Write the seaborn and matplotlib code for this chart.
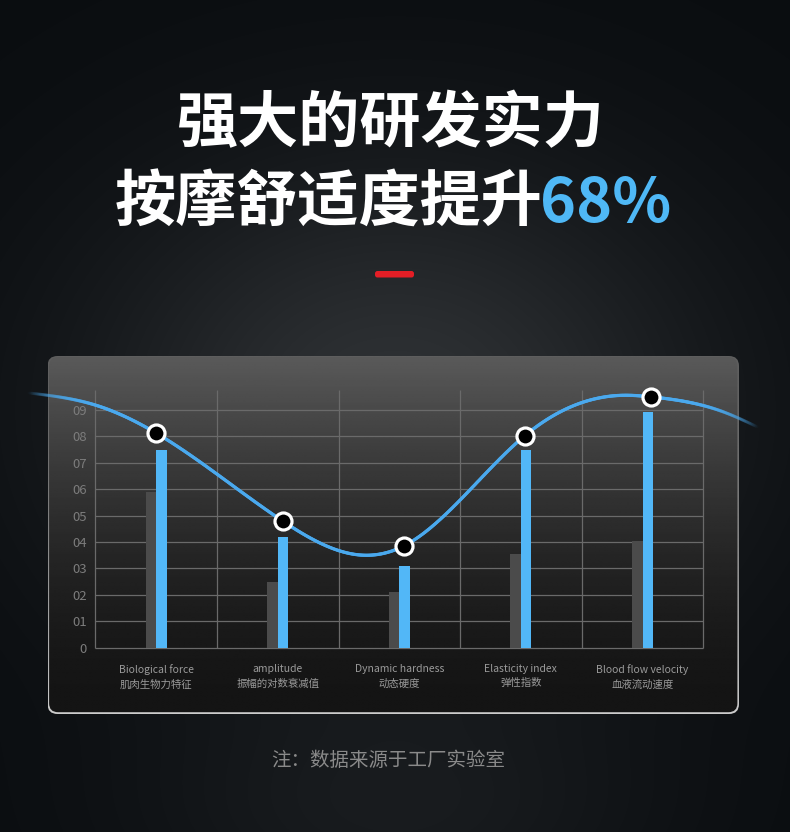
import numpy as np
import matplotlib
matplotlib.use("Agg")
import matplotlib.pyplot as plt
from matplotlib.patches import FancyBboxPatch
from matplotlib.collections import LineCollection
import seaborn as sns
import pandas as pd

# chart data
categories_en = ["Biological force", "amplitude", "Dynamic hardness", "Elasticity index", "Blood flow velocity"]
categories_cn = ["肌肉生物力特征", "振幅的对数衰减值", "动态硬度", "弹性指数", "血液流动速度"]
before_vals = [5.9, 2.5, 2.1, 3.55, 4.05]
after_vals = [7.5, 4.2, 3.1, 7.5, 8.93]
point_vals = [8.13, 4.8, 3.86, 8.02, 9.5]
ytick_labels = ["0", "01", "02", "03", "04", "05", "06", "07", "08", "09"]
# extra points of the smooth curve (tails outside the grid, dip and peak)
curve_extra_x = [-1.05, -0.5, 1.68, 3.85, 4.66, 4.95]
curve_extra_y = [9.65, 9.19, 3.51, 9.56, 8.94, 8.35]

title1 = "强大的研发实力"
title2 = "按摩舒适度提升"
title2_hl = "68%"
note = "注：数据来源于工厂实验室"

W, H = 790, 832
BLUE = "#52b7f7"
LINE_BLUE = "#4aa9ee"

sns.set_theme(style="white")
plt.rcParams["font.family"] = ["Noto Sans CJK SC", "DejaVu Sans"]


def natural_spline(x, y, xs):
    x = np.asarray(x, float)
    y = np.asarray(y, float)
    n = len(x)
    h = np.diff(x)
    A = np.zeros((n, n))
    r = np.zeros(n)
    A[0, 0] = A[-1, -1] = 1
    for i in range(1, n - 1):
        A[i, i - 1] = h[i - 1]
        A[i, i] = 2 * (h[i - 1] + h[i])
        A[i, i + 1] = h[i]
        r[i] = 3 * ((y[i + 1] - y[i]) / h[i] - (y[i] - y[i - 1]) / h[i - 1])
    c = np.linalg.solve(A, r)
    b = (y[1:] - y[:-1]) / h - h * (2 * c[:-1] + c[1:]) / 3
    d = (c[1:] - c[:-1]) / (3 * h)
    idx = np.clip(np.searchsorted(x, xs) - 1, 0, n - 2)
    t = xs - x[idx]
    return y[idx] + b[idx] * t + c[idx] * t ** 2 + d[idx] * t ** 3


fig = plt.figure(figsize=(W / 100, H / 100), dpi=100)
fig.patch.set_facecolor("#0b0e11")

# ---- background layer in pixel coordinates
bg = fig.add_axes([0, 0, 1, 1])
bg.set_xlim(0, W)
bg.set_ylim(H, 0)
bg.axis("off")

yy, xx = np.mgrid[0:H, 0:W]
glow = 36 * np.exp(-((xx - 395) / 310.0) ** 2 - ((yy - 410) / 250.0) ** 2)
glow += 12 * np.exp(-((xx - 395) / 260.0) ** 2 - ((yy - 820) / 120.0) ** 2)
img = np.stack([10 + glow, 13 + glow, 16 + glow], axis=-1) / 255.0
bg.imshow(np.clip(img, 0, 1), extent=[0, W, H, 0], zorder=0, interpolation="bilinear")

# panel: outer light border then inner gradient
px0, py0, px1, py1 = 47.5, 356, 739, 714
outer = FancyBboxPatch((px0, py0), px1 - px0, py1 - py0,
                       boxstyle="round,pad=0,rounding_size=10",
                       facecolor="none", edgecolor="none")
bg.add_patch(outer)
t = np.linspace(0, 1, 200)[:, None]
border_grad = (0.37 + 0.43 * t ** 1.5) * np.ones((200, 2))
bi = bg.imshow(border_grad, cmap="gray", vmin=0, vmax=1, extent=[px0, px1, py1, py0],
               aspect="auto", zorder=1, interpolation="bilinear")
bi.set_clip_path(outer)

inner = FancyBboxPatch((px0 + 1.6, py0 + 1.2), px1 - px0 - 3.2, py1 - py0 - 3.0,
                       boxstyle="round,pad=0,rounding_size=9",
                       facecolor="none", edgecolor="none")
bg.add_patch(inner)
panel_grad = ((20 + 70 * (1 - t) ** 1.7) / 255.0) * np.ones((200, 2))
pi = bg.imshow(panel_grad, cmap="gray", vmin=0, vmax=1, extent=[px0, px1, py1, py0],
               aspect="auto", zorder=2, interpolation="bilinear")
pi.set_clip_path(inner)

# title
bg.text(391, 124, title1, color="white", fontsize=44, fontweight="bold",
        ha="center", va="center", zorder=5)
t2 = bg.text(115, 204, title2, color="white", fontsize=44, fontweight="bold",
             ha="left", va="center", zorder=5)
bg.annotate(title2_hl, xy=(1, 0.5), xycoords=t2, xytext=(-2, 0), textcoords="offset points",
            color="#4fb8f6", fontsize=44, fontweight="bold", ha="left", va="center", zorder=5)

# red dash
bg.add_patch(FancyBboxPatch((375, 271), 39, 6.5, boxstyle="round,pad=0,rounding_size=2.5",
                            facecolor="#e41e26", edgecolor="none", zorder=5))

# footnote
bg.text(388, 761, note, color="#8a8a8a", fontsize=14, ha="center", va="center", zorder=5)

# ---- chart axes
ymax = 9.76
ax = fig.add_axes([95.3 / W, 184.3 / H, 608 / W, 257.7 / H])
ax.patch.set_alpha(0)

df = pd.DataFrame({
    "cat": categories_en * 2,
    "value": before_vals + after_vals,
    "series": ["before"] * len(before_vals) + ["after"] * len(after_vals),
})
sns.barplot(data=df, x="cat", y="value", hue="series", hue_order=["before", "after"],
            palette={"before": "#4b4b4b", "after": BLUE}, saturation=1,
            width=0.173, gap=0, dodge=True, legend=False, errorbar=None, ax=ax, zorder=3,
            linewidth=0, edgecolor="none")

n = len(categories_en)
ax.set_xlim(-0.5, n - 0.5)
ax.set_ylim(0, ymax)
for s in ax.spines.values():
    s.set_visible(False)

grid_c = "#6a6a6a"
ax.hlines(range(len(ytick_labels)), -0.5, n - 0.5, color=grid_c, lw=0.9, zorder=1, clip_on=False)
ax.vlines(np.arange(n + 1) - 0.5, 0, ymax, color=grid_c, lw=0.9, zorder=1, clip_on=False)

ax.set_yticks(range(len(ytick_labels)))
ax.set_yticklabels(ytick_labels, color="#7c7c7c", fontsize=9.5)
ax.set_xticks(range(n))
ax.set_xticklabels([f"{e}\n{c}" for e, c in zip(categories_en, categories_cn)],
                   color="#9a9a9a", fontsize=7.5, linespacing=1.5)
ax.tick_params(axis="both", length=0)
ax.tick_params(axis="y", pad=6)
ax.tick_params(axis="x", pad=12)
ax.set_xlabel("")
ax.set_ylabel("")

# smooth curve through the points, fading at both ends
mx = np.arange(n) + np.array([0, 0.04, 0.04, 0.03, 0.07])
kx = np.concatenate([mx, curve_extra_x])
ky = np.concatenate([point_vals, curve_extra_y])
order = np.argsort(kx)
kx, ky = kx[order], ky[order]
xs = np.linspace(kx[0], kx[-1], 600)
ys = natural_spline(kx, ky, xs)
pts = np.column_stack([xs, ys]).reshape(-1, 1, 2)
segs = np.concatenate([pts[:-1], pts[1:]], axis=1)
xm = 0.5 * (xs[:-1] + xs[1:])
alpha = np.clip(np.minimum((xm - kx[0]) / 0.6, (kx[-1] - xm) / 0.55), 0, 1)
rgba = np.array([matplotlib.colors.to_rgba(LINE_BLUE)] * len(xm))
rgba[:, 3] = alpha
lc = LineCollection(segs, colors=rgba, linewidths=2.3, zorder=4, clip_on=False,
                    capstyle="round")
ax.add_collection(lc)

sns.scatterplot(x=mx, y=point_vals, s=150, color="black", edgecolor="white",
                linewidth=2.3, zorder=5, ax=ax, clip_on=False, legend=False)
ax.set_xlim(-0.5, n - 0.5)
ax.set_ylim(0, ymax)

fig.savefig("out.png", dpi=100, facecolor=fig.get_facecolor())
